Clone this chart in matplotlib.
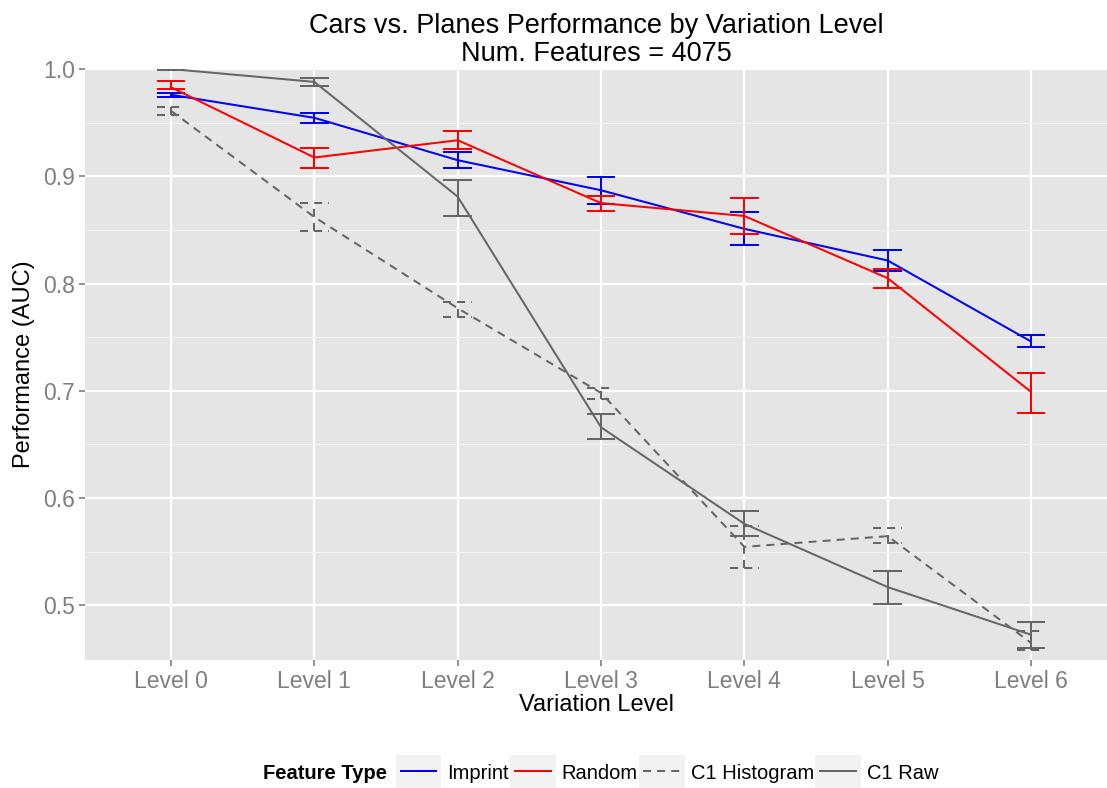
import matplotlib
matplotlib.use("Agg")
import matplotlib.pyplot as plt
import numpy as np
from matplotlib.legend_handler import HandlerLine2D
from matplotlib.lines import Line2D
from matplotlib.patches import Rectangle

plt.rcParams['font.family'] = ['Liberation Sans', 'DejaVu Sans']

levels = ["Level 0", "Level 1", "Level 2", "Level 3", "Level 4", "Level 5", "Level 6"]

imprint_mean = [0.976, 0.9545, 0.915, 0.887, 0.851, 0.8215, 0.746]
imprint_lo   = [0.974, 0.950, 0.908, 0.874, 0.836, 0.812, 0.741]
imprint_hi   = [0.978, 0.959, 0.923, 0.899, 0.867, 0.831, 0.752]

random_mean = [0.983, 0.9175, 0.9336, 0.875, 0.863, 0.805, 0.699]
random_lo   = [0.981, 0.908, 0.925, 0.868, 0.846, 0.796, 0.679]
random_hi   = [0.989, 0.926, 0.942, 0.882, 0.880, 0.814, 0.717]

hist_mean = [0.961, 0.862, 0.777, 0.698, 0.5545, 0.5645, 0.465]
hist_lo   = [0.957, 0.849, 0.769, 0.692, 0.535, 0.558, 0.458]
hist_hi   = [0.965, 0.875, 0.783, 0.703, 0.574, 0.572, 0.476]

raw_mean = [1.000, 0.988, 0.881, 0.666, 0.576, 0.517, 0.4726]
raw_lo   = [0.999, 0.984, 0.863, 0.655, 0.565, 0.501, 0.460]
raw_hi   = [1.001, 0.992, 0.897, 0.678, 0.588, 0.532, 0.484]

series = [
    ("Imprint", imprint_mean, imprint_lo, imprint_hi, "#0000FF", "-"),
    ("Random", random_mean, random_lo, random_hi, "#FF0000", "-"),
    ("C1 Histogram", hist_mean, hist_lo, hist_hi, "#666666", "--"),
    ("C1 Raw", raw_mean, raw_lo, raw_hi, "#666666", "-"),
]

fig = plt.figure(figsize=(11.07, 7.88), dpi=100)
ax = fig.add_axes([0.0768, 0.1624, 0.9232, 0.7500])
ax.set_facecolor("#E5E5E5")

x = np.arange(len(levels))
lw = 1.45
dash = (4, 3)
handles = []
for name, m, lo, hi, col, ls in series:
    kw = dict(color=col, lw=lw, solid_capstyle='butt')
    if ls == "--":
        line, = ax.plot(x, m, dashes=dash, **kw, zorder=3)
        ax.vlines(x, lo, hi, colors=col, lw=lw, linestyles=(0, dash), zorder=3)
        ax.hlines(lo, x - 0.1, x + 0.1, colors=col, lw=lw, linestyles=(0, dash), zorder=3)
        ax.hlines(hi, x - 0.1, x + 0.1, colors=col, lw=lw, linestyles=(0, dash), zorder=3)
    else:
        line, = ax.plot(x, m, **kw, zorder=3)
        ax.vlines(x, lo, hi, colors=col, lw=lw, zorder=3)
        ax.hlines(lo, x - 0.1, x + 0.1, colors=col, lw=lw, zorder=3)
        ax.hlines(hi, x - 0.1, x + 0.1, colors=col, lw=lw, zorder=3)
    handles.append(line)

ax.set_xlim(-0.6, 6.53)
ax.set_ylim(0.449, 1.0)
ax.set_xticks(x)
ax.set_xticklabels(levels)
ax.set_yticks([0.5, 0.6, 0.7, 0.8, 0.9, 1.0])
ax.set_yticks([0.55, 0.65, 0.75, 0.85, 0.95], minor=True)
ax.grid(True, which='major', color='white', lw=1.6)
ax.grid(True, which='minor', axis='y', color='#F2F2F2', lw=0.8)
ax.set_axisbelow(True)
for s in ax.spines.values():
    s.set_visible(False)
ax.tick_params(axis='both', which='major', colors='#7F7F7F', labelcolor='#7F7F7F',
               labelsize=16.5, length=4, width=1.2, pad=3)
ax.tick_params(axis='y', which='minor', length=0)
ax.set_xlabel("Variation Level", fontsize=17, labelpad=1)
ax.set_ylabel("Performance (AUC)", fontsize=17, labelpad=6)
ax.set_title("Cars vs. Planes Performance by Variation Level\nNum. Features = 4075",
             fontsize=19.5, linespacing=1.1, pad=6)


class KeyHandler(HandlerLine2D):
    def create_artists(self, legend, orig_handle, xdescent, ydescent, width, height, fontsize, trans):
        rect = Rectangle((-xdescent - 3, -ydescent - 7), width + 6, height + 14,
                         facecolor='#F2F2F2', edgecolor='none', transform=trans)
        arts = super().create_artists(legend, orig_handle, xdescent, ydescent, width, height, fontsize, trans)
        return [rect] + list(arts)


leg = fig.legend(handles, [s[0] for s in series], loc='center left',
                 bbox_to_anchor=(0.3613, 0.019), ncol=4, frameon=False, borderpad=0,
                 borderaxespad=0,
                 fontsize=14.5, handlelength=1.85, handletextpad=0.5, columnspacing=0.27,
                 handler_map={Line2D: KeyHandler()})
fig.text(0.3496, 0.019, "Feature Type", fontsize=14.5, fontweight='bold',
         ha='right', va='center')

fig.savefig("out.png", dpi=100)
